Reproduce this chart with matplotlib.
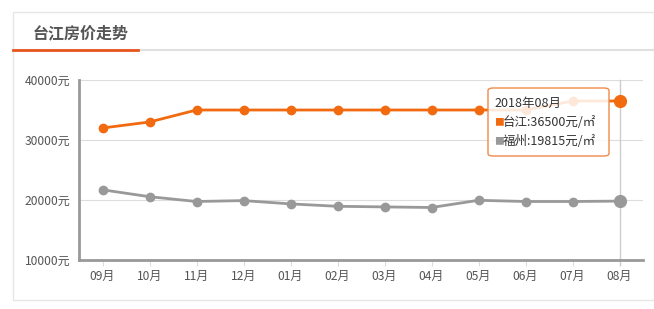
import numpy as np
import matplotlib
matplotlib.use("Agg")
import matplotlib.pyplot as plt
from matplotlib.patches import FancyBboxPatch, Rectangle
from matplotlib.lines import Line2D

plt.rcParams['font.family'] = ['Noto Sans CJK SC', 'DejaVu Sans']

months = ["09月", "10月", "11月", "12月", "01月", "02月", "03月", "04月", "05月", "06月", "07月", "08月"]
taijiang = [32000, 33000, 35000, 35000, 35000, 35000, 35000, 35000, 35000, 35000, 36500, 36500]
fuzhou = [21700, 20550, 19750, 19900, 19350, 18950, 18850, 18750, 19950, 19750, 19750, 19815]
yticks = [10000, 20000, 30000, 40000]
title = "台江房价走势"
tip_title = "2018年08月"

orange = "#f26a10"
gray = "#999999"
txt = "#555555"

fig = plt.figure(figsize=(6.54, 3.09), dpi=100)
W, H = 654, 309

# panel frame and header
fig.patches.append(Rectangle((13 / W, 1 - 300 / H), 641 / W, 288 / H, transform=fig.transFigure,
                             fill=False, edgecolor="#e6e6e6", lw=1))
fig.lines.append(Line2D([13 / W, 1], [1 - 50 / H] * 2, transform=fig.transFigure, color="#e0e0e0", lw=1.5))
fig.lines.append(Line2D([13 / W, 138 / W], [1 - 50 / H] * 2, transform=fig.transFigure, color="#e8541e", lw=2))
fig.text(33 / W, 1 - 33 / H, title, fontsize=11.5, fontweight="bold", color=txt, va="center", ha="left")

ax = fig.add_axes([79 / W, 1 - 260 / H, (643 - 79) / W, 180 / H])
x = np.arange(len(months))

ax.set_xlim(-0.5, len(months) - 0.5)
ax.set_ylim(10000, 40000)
ax.set_yticks(yticks)
ax.set_yticklabels([f"{v}元" for v in yticks], fontsize=8.7, color=txt)
ax.set_xticks(x)
ax.set_xticklabels(months, fontsize=8.7, color=txt)
ax.tick_params(axis="y", length=0, pad=6)
ax.tick_params(axis="x", length=4, color="#dddddd", pad=3)
ax.grid(axis="y", color="#dddddd", lw=0.8)
ax.set_axisbelow(True)
for s in ["top", "right"]:
    ax.spines[s].set_visible(False)
for s in ["left", "bottom"]:
    ax.spines[s].set_color("#999999")
    ax.spines[s].set_linewidth(2)

# crosshair on last point
ax.axvline(x[-1], ymin=-0.03, ymax=1, color="#cccccc", lw=1, clip_on=False, zorder=1)

ax.plot(x, taijiang, color=orange, lw=2, marker="o", ms=6, zorder=3)
ax.plot(x, fuzhou, color=gray, lw=2, marker="o", ms=6, zorder=3)
ax.plot(x[-1], taijiang[-1], "o", color=orange, ms=8.5, zorder=4)
ax.plot(x[-1], fuzhou[-1], "o", color=gray, ms=8.5, zorder=4)

# tooltip
fig.patches.append(FancyBboxPatch((488 / W, 1 - 156 / H), 121 / W, 68 / H, transform=fig.transFigure,
                                  boxstyle="round,pad=0,rounding_size=0.008", facecolor=(1, 1, 1, 0.85),
                                  edgecolor="#f08a4b", lw=1, zorder=10))
fig.text(494 / W, 1 - 103 / H, tip_title, fontsize=9, color="#333333", va="center", zorder=11)
fig.text(494 / W, 1 - 122 / H, "■", fontsize=7, color=orange, va="center", zorder=11)
fig.text(503 / W, 1 - 122 / H, f"台江:{taijiang[-1]}元/㎡", fontsize=9, color="#333333", va="center", zorder=11)
fig.text(494 / W, 1 - 141 / H, "■", fontsize=7, color=gray, va="center", zorder=11)
fig.text(503 / W, 1 - 141 / H, f"福州:{fuzhou[-1]}元/㎡", fontsize=9, color="#333333", va="center", zorder=11)

fig.savefig("out.png", dpi=100)
